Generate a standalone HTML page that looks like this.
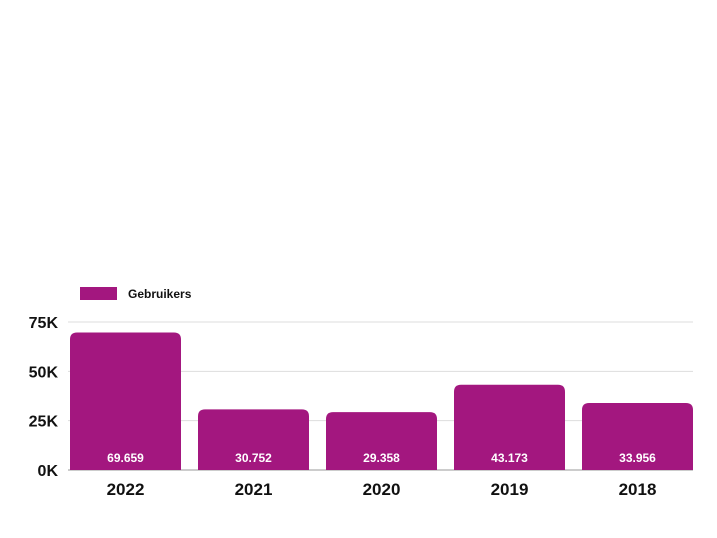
<!DOCTYPE html>
<html><head><meta charset="utf-8"><style>
body{margin:0;background:#fff;}
svg{display:block;font-family:"Liberation Sans",sans-serif;}
</style></head><body>
<svg id="chart" width="717" height="538">
<rect x="80" y="287" width="37" height="13" fill="#a3177f"/>
<text x="128" y="298" font-size="12" font-weight="bold" fill="#111">Gebruikers</text>
<g id="grid"></g><g id="bars"></g>
</svg>
<script>
const categories=["2022","2021","2020","2019","2018"];
const values=[69659,30752,29358,43173,33956];
const valueLabels=["69.659","30.752","29.358","43.173","33.956"];
const ticks=[0,25000,50000,75000];
const tickLabels=["0K","25K","50K","75K"];
const NS="http://www.w3.org/2000/svg";
const y0=470,yTop=322,maxV=75000;
function y(v){return y0-(v/maxV)*(y0-yTop);}
function x(i){return 70+i*128;}
const bw=111;
const grid=document.getElementById('grid'),bars=document.getElementById('bars');
function mk(t,a,p){const e=document.createElementNS(NS,t);for(const k in a)e.setAttribute(k,a[k]);p.appendChild(e);return e;}
ticks.forEach((t,i)=>{
 const l=mk('line',{x1:68,x2:693,y1:y(t),y2:y(t),stroke:i===0?'#999':'#ddd','stroke-width':1},grid);
 
 
 const tx=mk('text',{x:58,y:y(t)+6,'text-anchor':'end','font-size':16,'font-weight':'bold',fill:'#111'},grid);
 tx.textContent=tickLabels[i];
 
 
});
values.forEach((v,i)=>{
 const top=y(v),h=y0-top,r=7;
 const X=x(i);
 const p=mk('path',{d:`M${X},${y0}V${top+r}Q${X},${top} ${X+r},${top}H${X+bw-r}Q${X+bw},${top} ${X+bw},${top+r}V${y0}Z`,fill:'#a3177f'},bars);
 
 
 const vl=mk('text',{x:X+bw/2,y:462,'text-anchor':'middle','font-size':12,'font-weight':'bold',fill:'#fff'},bars);
 vl.textContent=valueLabels[i];
 
 
 const cl=mk('text',{x:X+bw/2,y:495,'text-anchor':'middle','font-size':17,'font-weight':'bold',fill:'#111'},bars);
 cl.textContent=categories[i];
 
 
});
</script>
</body></html>
